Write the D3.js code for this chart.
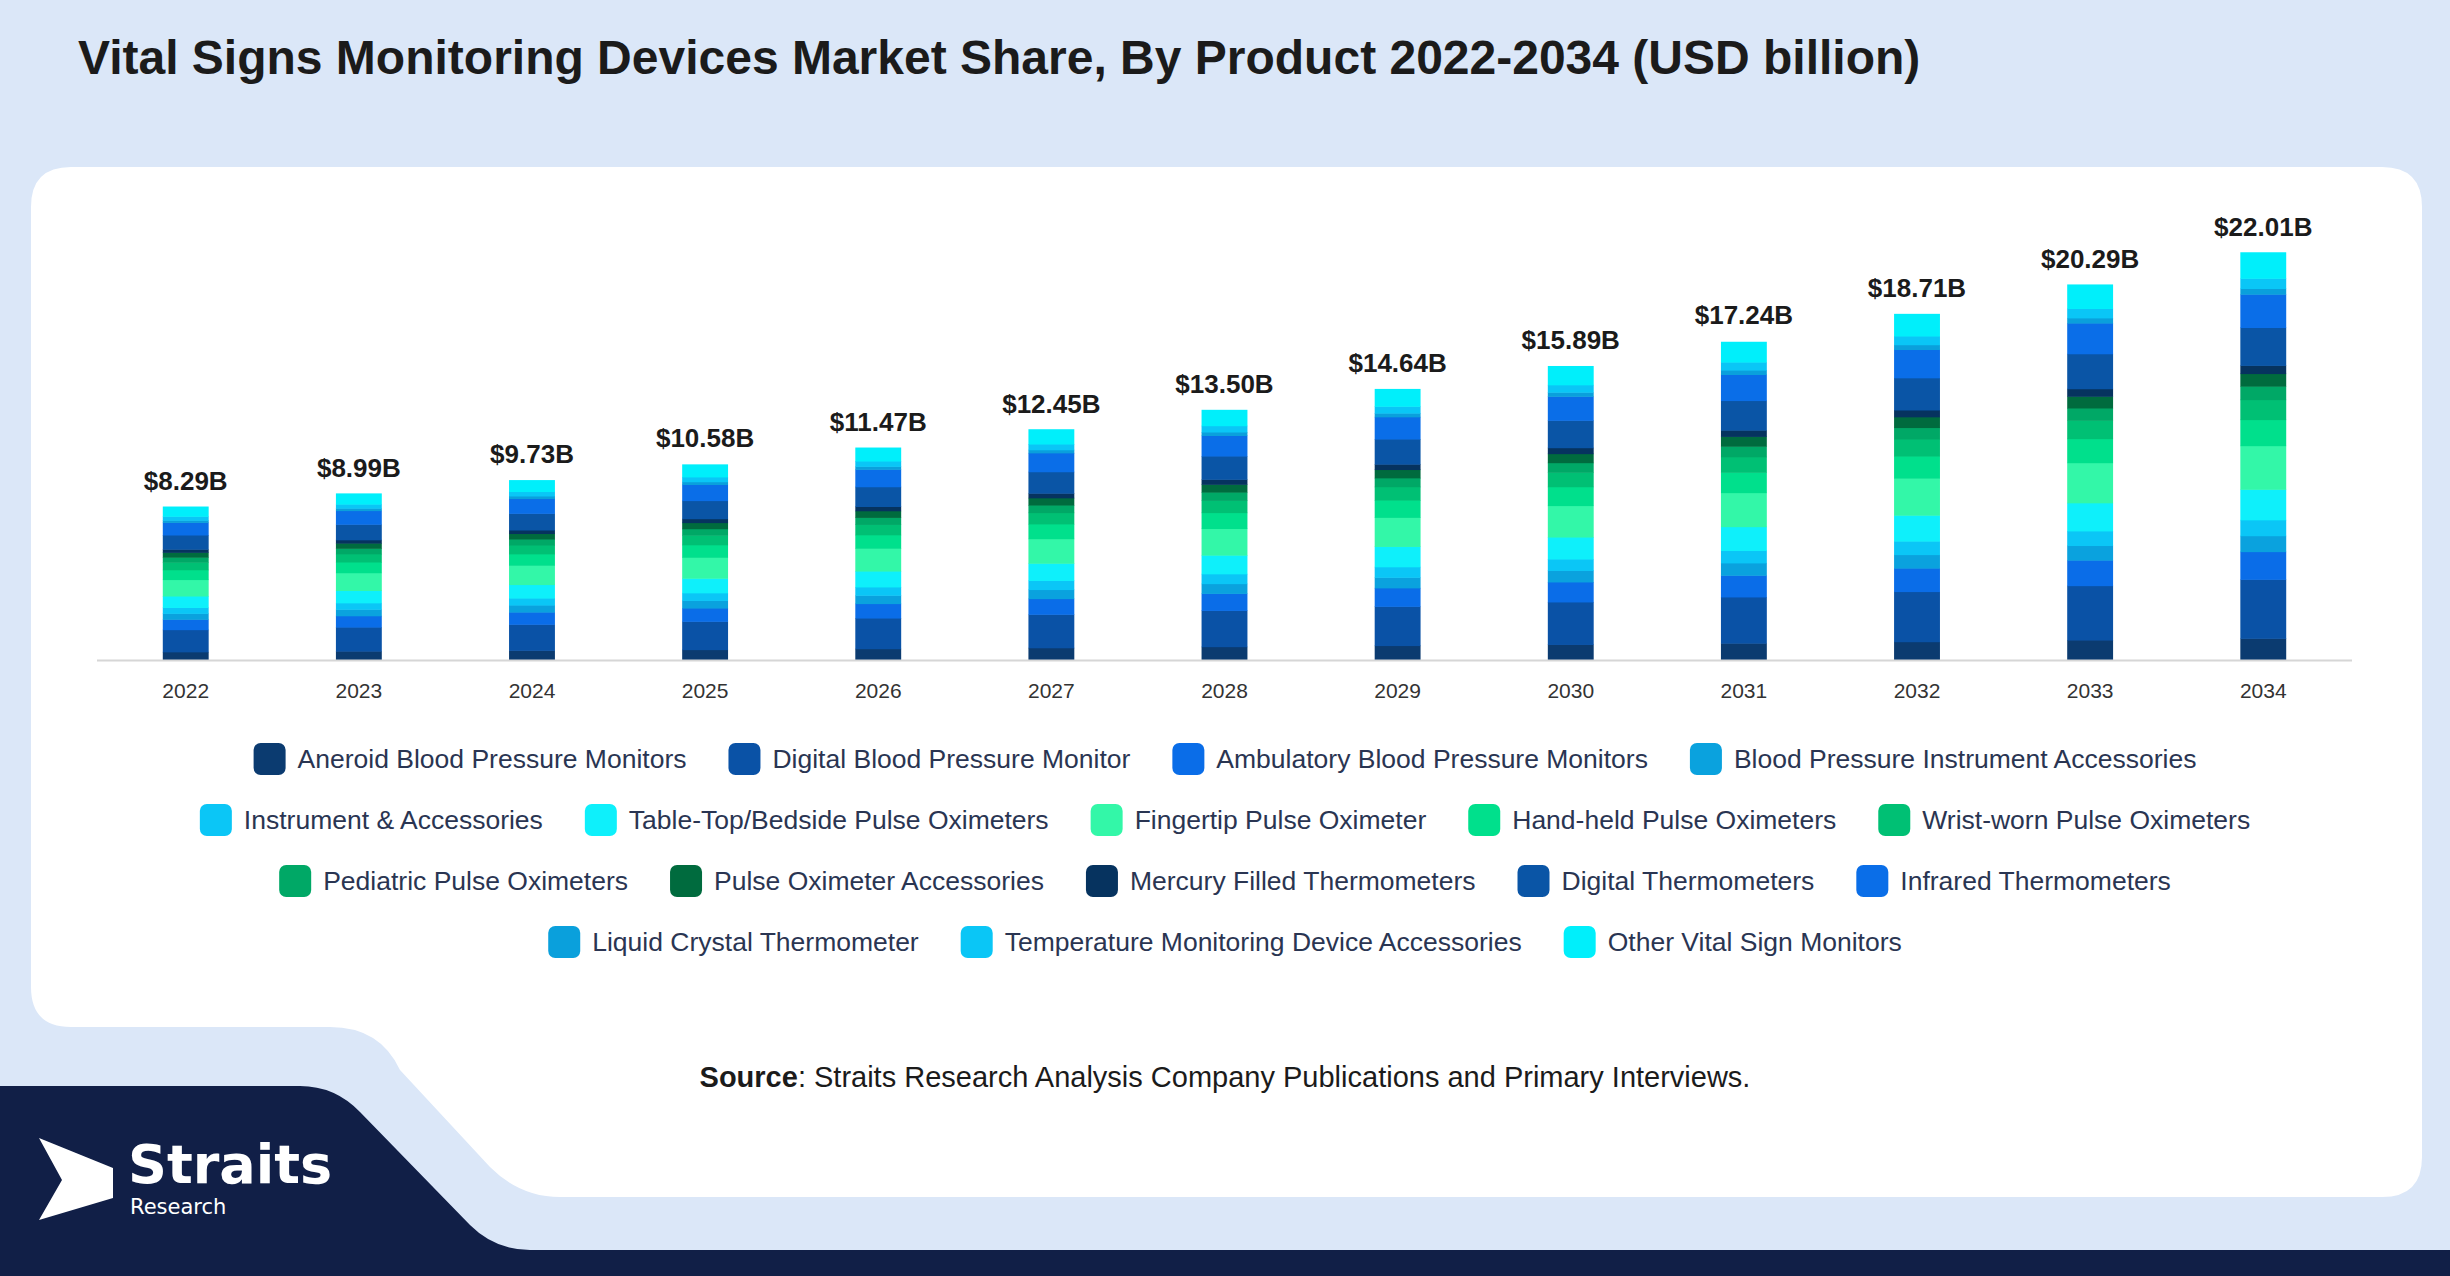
<!DOCTYPE html>
<html>
<head>
<meta charset="utf-8">
<script src="https://cdn.jsdelivr.net/npm/d3@7"></script>
<style>
  body { margin: 0; background: #dbe7f8; }
  svg { display: block; font-family: "Liberation Sans", Arial, sans-serif; }
</style>
</head>
<body>
<svg id="chart" width="2450" height="1276"></svg>
<script>
// datos
const years = ["2022","2023","2024","2025","2026","2027","2028","2029","2030","2031","2032","2033","2034"]
const totals = [8.29, 8.99, 9.73, 10.58, 11.47, 12.45, 13.50, 14.64, 15.89, 17.24, 18.71, 20.29, 22.01]
const products = ["Aneroid Blood Pressure Monitors","Digital Blood Pressure Monitor","Ambulatory Blood Pressure Monitors","Blood Pressure Instrument Accessories","Instrument & Accessories","Table-Top/Bedside Pulse Oximeters","Fingertip Pulse Oximeter","Hand-held Pulse Oximeters","Wrist-worn Pulse Oximeters","Pediatric Pulse Oximeters","Pulse Oximeter Accessories","Mercury Filled Thermometers","Digital Thermometers","Infrared Thermometers","Liquid Crystal Thermometer","Temperature Monitoring Device Accessories","Other Vital Sign Monitors"]
const colors = ["#0b3b70","#0a52a6","#0a6de8","#0aa2de","#0bc6f6","#0ef0fb","#33f7a8","#00e08c","#00c074","#00a866","#006b3e","#06335f","#0a55a6","#0a6ee8","#0aa0dc","#0ac6f6","#00effb"]

const aneroid      = [0.44,0.48,0.52,0.56,0.61,0.66,0.72,0.78,0.84,0.91,0.99,1.08,1.17]
const digitalBP    = [1.20,1.30,1.41,1.53,1.66,1.81,1.96,2.12,2.30,2.50,2.71,2.94,3.19]
const ambulatory   = [0.56,0.61,0.66,0.72,0.78,0.85,0.92,1.00,1.08,1.17,1.27,1.38,1.50]
const bpAccess     = [0.32,0.35,0.38,0.41,0.45,0.49,0.53,0.57,0.62,0.67,0.73,0.79,0.86]
const instAccess   = [0.32,0.35,0.38,0.41,0.45,0.49,0.53,0.57,0.62,0.67,0.73,0.79,0.86]
const tableTop     = [0.62,0.67,0.73,0.79,0.86,0.93,1.01,1.10,1.19,1.29,1.40,1.52,1.65]
const fingertip    = [0.89,0.96,1.04,1.13,1.23,1.33,1.44,1.57,1.70,1.84,2.00,2.17,2.36]
const handheld     = [0.53,0.58,0.62,0.68,0.73,0.80,0.86,0.94,1.02,1.10,1.20,1.30,1.41]
const wristWorn    = [0.41,0.44,0.48,0.52,0.56,0.61,0.66,0.72,0.78,0.84,0.92,0.99,1.08]
const pediatric    = [0.27,0.30,0.32,0.35,0.38,0.41,0.45,0.48,0.52,0.57,0.62,0.67,0.73]
const pulseAccess  = [0.26,0.28,0.30,0.33,0.36,0.39,0.42,0.45,0.49,0.53,0.58,0.63,0.68]
const mercury      = [0.17,0.18,0.19,0.21,0.23,0.25,0.27,0.29,0.32,0.34,0.37,0.41,0.44]
const digitalTherm = [0.77,0.84,0.90,0.98,1.07,1.16,1.26,1.36,1.48,1.60,1.74,1.89,2.05]
const infrared     = [0.68,0.74,0.80,0.87,0.94,1.02,1.11,1.20,1.30,1.41,1.53,1.66,1.80]
const liquidCrys   = [0.12,0.13,0.14,0.15,0.16,0.17,0.19,0.20,0.22,0.24,0.26,0.28,0.31]
const tempAccess   = [0.21,0.22,0.24,0.26,0.29,0.31,0.34,0.37,0.40,0.43,0.47,0.51,0.55]
const otherVital   = [0.53,0.58,0.62,0.68,0.73,0.80,0.86,0.94,1.02,1.10,1.20,1.30,1.41]

const series = [aneroid, digitalBP, ambulatory, bpAccess, instAccess, tableTop, fingertip, handheld, wristWorn, pediatric, pulseAccess, mercury, digitalTherm, infrared, liquidCrys, tempAccess, otherVital]

const svg = d3.select("#chart")

// fondo, tarjeta blanca y logo
svg.append("rect").attr("width", 2450).attr("height", 1276).attr("fill", "#dbe7f8")
svg.append("path")
  .attr("d", "M31,207 Q31,167 71,167 L2382,167 Q2422,167 2422,207 L2422,1157 Q2422,1197 2382,1197 L560,1197 Q520,1197 490,1167 L400,1070 Q380,1027 330,1027 L71,1027 Q31,1027 31,987 Z")
  .attr("fill", "#ffffff")
svg.append("path")
  .attr("d", "M0,1086 L300,1086 Q335,1086 360,1112 L470,1225 Q495,1250 530,1250 L2450,1250 L2450,1276 L0,1276 Z")
  .attr("fill", "#111f47")
svg.append("path")
  .attr("d", "M39,1138 L113,1168 L113,1198 L39,1220 L62,1180 Z")
  .attr("fill", "#ffffff")
svg.append("text").attr("x", 128).attr("y", 1183).attr("fill", "#fff")
  .attr("font-size", 54).attr("font-weight", "bold").attr("font-family", "'DejaVu Sans', sans-serif").text("Straits")
svg.append("text").attr("x", 130).attr("y", 1214).attr("fill", "#fff")
  .attr("font-size", 21).attr("font-family", "'DejaVu Sans', sans-serif").text("Research")

// titulo
svg.append("text").attr("x", 78).attr("y", 74)
  .attr("font-size", 48).attr("font-weight", "bold").attr("fill", "#1b1b1b")
  .text("Vital Signs Monitoring Devices Market Share, By Product 2022-2034 (USD billion)")

// escalas
const x = d3.scaleBand().domain(years).range([97, 2352]).paddingInner(0.735).paddingOuter(0.38)
const y = d3.scaleLinear().domain([0, 22.01]).range([660, 253])

const stackData = years.map((yr, i) => {
  const o = { year: yr }
  products.forEach((p, k) => { o[p] = series[k][i] })
  return o
})
const stacked = d3.stack().keys(products)(stackData)

const gBars = svg.append("g")
gBars.selectAll("g").data(stacked).enter().append("g")
  .attr("fill", (d, i) => colors[i])
  .selectAll("rect").data(d => d).enter().append("rect")
  .attr("x", d => x(d.data.year))
  .attr("width", x.bandwidth())
  .attr("y", d => y(d[1]))
  .attr("height", d => y(d[0]) - y(d[1]) + 0.5)

// eje
svg.append("line").attr("x1", 97).attr("x2", 2352).attr("y1", 660.5).attr("y2", 660.5)
  .attr("stroke", "#d6d6d6").attr("stroke-width", 2)
svg.append("g").selectAll("text").data(years).enter().append("text")
  .attr("x", d => x(d) + x.bandwidth() / 2).attr("y", 698)
  .attr("text-anchor", "middle").attr("font-size", 21).attr("fill", "#333")
  .text(d => d)

// totales
svg.append("g").selectAll("text").data(totals).enter().append("text")
  .attr("x", (d, i) => x(years[i]) + x.bandwidth() / 2)
  .attr("y", d => y(d) - 17)
  .attr("text-anchor", "middle").attr("font-size", 26).attr("font-weight", "bold").attr("fill", "#1b1b1b")
  .text(d => "$" + d.toFixed(2) + "B")

// leyenda
const rows = [[0,1,2,3],[4,5,6,7,8],[9,10,11,12,13],[14,15,16]]
const rowY = [759, 820, 881, 942]
const gLeg = svg.append("g")
rows.forEach((r, ri) => {
  const row = gLeg.append("g")
  let cx = 0
  r.forEach(k => {
    const it = row.append("g").attr("transform", `translate(${cx},0)`)
    it.append("rect").attr("x", 0).attr("y", -16).attr("width", 32).attr("height", 32).attr("rx", 7)
      .attr("fill", colors[k])
    const t = it.append("text").attr("x", 44).attr("y", 9).attr("font-size", 26.5).attr("fill", "#2a3552").text(products[k])
    cx += 44 + t.node().getComputedTextLength() + 42
  })
  const w = cx - 42
  row.attr("transform", `translate(${1225 - w / 2},${rowY[ri]})`)
})

// fuente
const src = svg.append("text").attr("x", 1225).attr("y", 1087).attr("text-anchor", "middle")
  .attr("font-size", 29).attr("fill", "#1b1b1b")
src.append("tspan").attr("font-weight", "bold").text("Source")
src.append("tspan").text(": Straits Research Analysis Company Publications and Primary Interviews.")
</script>
</body>
</html>
